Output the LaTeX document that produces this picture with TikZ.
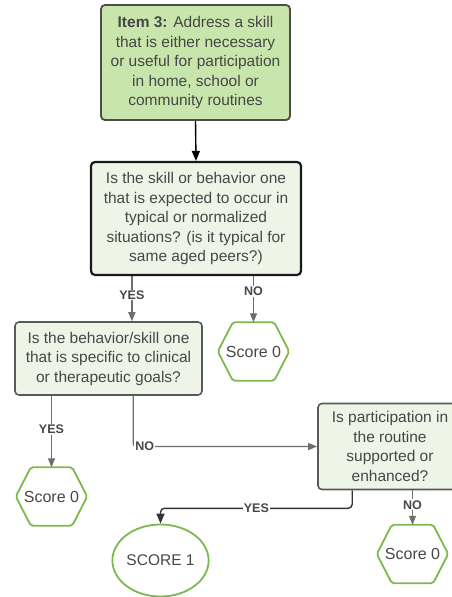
\documentclass[tikz,border=0pt]{standalone}
\usepackage{fontspec}
\setmainfont{Liberation Sans}
\usetikzlibrary{arrows.meta,calc,shapes.geometric}
\definecolor{txt}{HTML}{474747}
\definecolor{topfill}{HTML}{C8E6AC}
\definecolor{palefill}{HTML}{EEF5E7}
\definecolor{hexgreen}{HTML}{7CB94E}
\definecolor{conngray}{HTML}{6E6E6E}
\newcommand{\hexdraw}[1]{\draw[hexline] (#1.west) -- ($(#1.north west)+(15,0)$) -- ($(#1.north east)+(-15,0)$) -- (#1.east) -- ($(#1.south east)+(-15,0)$) -- ($(#1.south west)+(15,0)$) -- cycle;}
\begin{document}
\begin{tikzpicture}[x=1pt,y=-1pt,
  every node/.style={text=txt, font=\fontsize{15.5}{19.5}\selectfont, align=center, inner sep=0pt},
  topbox/.style={draw=black!70, line width=1.8pt, fill=topfill, rounded corners=4pt},
  qbox/.style={draw=black!65, line width=1.6pt, fill=palefill, rounded corners=4pt},
  mainq/.style={draw=black!90, line width=2.2pt, fill=palefill, rounded corners=4pt},
  hexnode/.style={minimum width=71pt, minimum height=58pt, font=\fontsize{16}{19}\selectfont},
  hexline/.style={draw=hexgreen, line width=1.8pt, rounded corners=2pt},
  conn/.style={draw=conngray, line width=1.3pt, -{Triangle[length=9pt,width=7pt]}},
  darkconn/.style={draw=black!80, line width=1.4pt, -{Triangle[length=10pt,width=8pt]}},
  lab/.style={font=\fontsize{12.5}{13}\bfseries, text=black!72, fill=white, inner sep=1pt}]
\useasboundingbox (0,0) rectangle (452,597);
\fill[white] (0,0) rectangle (452,597);

\node[topbox, minimum width=189pt, minimum height=115pt] (top) at (195.5,62.5)
  {\textbf{Item 3:} Address a skill\\that is either necessary\\or useful for participation\\in home, school or\\community routines};
\node[mainq, minimum width=210pt, minimum height=113pt] (q1) at (196,218.5)
  {Is the skill or behavior one\\that is expected to occur in\\typical or normalized\\situations? (is it typical for\\same aged peers?)};
\node[qbox, minimum width=187pt, minimum height=73pt] (q2) at (108.5,358.5)
  {Is the behavior/skill one\\that is specific to clinical\\or therapeutic goals?};
\node[qbox, minimum width=144pt, minimum height=86pt] (q3) at (390,446.5)
  {Is participation in\\the routine\\supported or\\enhanced?};

\node[hexnode] (h1) at (253.5,351.5) {Score 0};
\node[hexnode] (h2) at (51.5,496.5) {Score 0};
\node[hexnode] (h3) at (412.5,554) {Score 0};
\hexdraw{h1}
\hexdraw{h2}
\hexdraw{h3}

\node[ellipse, draw=hexgreen, line width=1.8pt, minimum width=87pt, minimum height=72pt] (s1) at (160.5,560.5) {SCORE 1};

% connectors
\draw[darkconn, draw=black] (top.south) -- (q1.north);

\draw[conn] ($(q1.south west)+(42,0)$) coordinate (y1) -- (y1 |- q2.north)
  node[lab, pos=0.42] {YES};
\draw[conn] (q1.south -| h1) -- (h1.north) node[lab, pos=0.33] {NO};

\draw[conn] (q2.south -| h2) -- (h2.north) node[lab, pos=0.47] {YES};
\draw[conn, rounded corners=3pt] ($(q2.south west)+(119,0)$) coordinate (n2) -- (n2 |- q3.west) -- (q3.west);
\node[lab, anchor=west] at ($(n2 |- q3.west)+(1,0)$) {NO};

\draw[darkconn, rounded corners=4pt] ($(q3.south west)+(35,0)$) -- ++(0,18) coordinate (k) -| (s1.north);
\node[lab] at ($(k)!0.5!(k -| s1)$) {YES};
\draw[conn] (q3.south -| h3) -- (h3.north) node[lab, pos=0.42] {NO};
\end{tikzpicture}
\end{document}
